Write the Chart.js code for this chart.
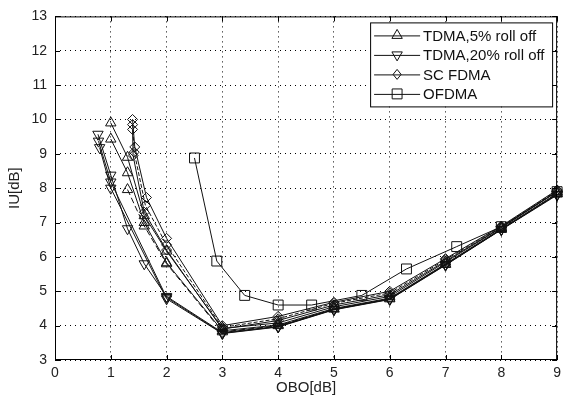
<!DOCTYPE html>
<html>
<head>
<meta charset="utf-8">
<script src="https://cdn.jsdelivr.net/npm/chart.js@4.4.1/dist/chart.umd.min.js"></script>
<style>
  html, body { margin: 0; padding: 0; background: #fff; }
</style>
</head>
<body>
<canvas id="myChart" width="566" height="398"></canvas>
<script>
const xTickLabels = ['0', '1', '2', '3', '4', '5', '6', '7', '8', '9'];
const yTickLabels = ['3', '4', '5', '6', '7', '8', '9', '10', '11', '12', '13'];
const seriesNames = ['TDMA,5% roll off', 'TDMA,20% roll off', 'SC FDMA', 'OFDMA'];

// TDMA 5% roll off (three curves)
const tdma5X1 = [1.0, 1.3, 1.6, 2.0, 3, 4, 5, 6, 7, 8, 9];
const tdma5Y1 = [9.9, 8.9, 7.2, 6.17, 3.92, 4.08, 4.55, 4.85, 5.85, 6.85, 7.9];
const tdma5X2 = [1.0, 1.3, 1.6, 2.0, 3, 4, 5, 6, 7, 8, 9];
const tdma5Y2 = [9.43, 8.45, 7.0, 5.83, 3.85, 4.02, 4.5, 4.8, 5.8, 6.82, 7.85];
const tdma5X3 = [1.3, 1.6, 2.0, 3, 4, 5, 6, 7, 8, 9];
const tdma5Y3 = [7.96, 6.9, 5.8, 3.82, 4.0, 4.48, 4.78, 5.78, 6.8, 7.83];

// TDMA 20% roll off (three curves)
const tdma20X1 = [0.77, 1.0, 1.3, 1.6, 2.0, 3, 4, 5, 6, 7, 8, 9];
const tdma20Y1 = [9.57, 8.38, 6.82, 5.8, 4.85, 3.8, 3.98, 4.48, 4.78, 5.78, 6.8, 7.82];
const tdma20X2 = [0.78, 1.0, 2.0, 3, 4, 5, 6, 7, 8, 9];
const tdma20Y2 = [9.37, 8.18, 4.82, 3.78, 3.97, 4.47, 4.77, 5.77, 6.8, 7.82];
const tdma20X3 = [0.8, 1.0, 2.0, 3, 4, 5, 6, 7, 8, 9];
const tdma20Y3 = [9.18, 8.0, 4.78, 3.77, 3.96, 4.46, 4.76, 5.76, 6.79, 7.8];

// SC FDMA (three curves)
const scX1 = [1.39, 1.43, 1.64, 2.0, 3, 4, 5, 6, 7, 8, 9];
const scY1 = [10.0, 9.2, 7.73, 6.54, 4.0, 4.27, 4.68, 5.0, 5.95, 6.9, 7.95];
const scX2 = [1.39, 1.42, 1.62, 2.0, 3, 4, 5, 6, 7, 8, 9];
const scY2 = [9.85, 9.05, 7.5, 6.35, 3.95, 4.2, 4.65, 4.95, 5.92, 6.88, 7.93];
const scX3 = [1.39, 1.4, 1.6, 2.0, 3, 4, 5, 6, 7, 8, 9];
const scY3 = [9.71, 8.95, 7.3, 6.2, 3.9, 4.15, 4.6, 4.9, 5.88, 6.86, 7.9];

// OFDMA
const ofdmaX = [2.5, 2.9, 3.4, 4.0, 4.6, 5.5, 6.3, 7.2, 8.0, 9];
const ofdmaY = [8.88, 5.88, 4.88, 4.6, 4.6, 4.88, 5.65, 6.3, 6.88, 7.9];

const markers = [
  { style: 'triangle', rotation: 0, radius: 6 },
  { style: 'triangle', rotation: 180, radius: 6 },
  { style: 'rectRot', rotation: 0, radius: 5 },
  { style: 'rect', rotation: 0, radius: 7 }
];

function curve(xs, ys, s, dash) {
  return {
    label: seriesNames[s],
    data: xs.map((x, i) => ({ x: x, y: ys[i] })),
    borderColor: '#111',
    borderWidth: 1,
    borderDash: dash || [],
    pointStyle: markers[s].style,
    pointRotation: markers[s].rotation,
    pointRadius: markers[s].radius,
    pointBorderColor: '#111',
    pointBackgroundColor: 'rgba(0,0,0,0)',
    pointBorderWidth: 1,
    tension: 0,
    clip: 10
  };
}

const font = "'Liberation Sans', Arial, sans-serif";

function drawMarker(ctx, s, x, y) {
  const r = markers[s].radius;
  ctx.beginPath();
  if (s === 0) {
    ctx.moveTo(x, y - r);
    ctx.lineTo(x + r * 0.866, y + r / 2);
    ctx.lineTo(x - r * 0.866, y + r / 2);
    ctx.closePath();
  } else if (s === 1) {
    ctx.moveTo(x, y + r);
    ctx.lineTo(x + r * 0.866, y - r / 2);
    ctx.lineTo(x - r * 0.866, y - r / 2);
    ctx.closePath();
  } else if (s === 2) {
    ctx.moveTo(x, y - r);
    ctx.lineTo(x + r * 0.8, y);
    ctx.lineTo(x, y + r);
    ctx.lineTo(x - r * 0.8, y);
    ctx.closePath();
  } else {
    const h = r * 0.707;
    ctx.rect(x - h, y - h, 2 * h, 2 * h);
  }
  ctx.stroke();
}

const boxPlugin = {
  id: 'boxPlugin',
  afterDraw(chart) {
    const ctx = chart.ctx;
    const a = chart.chartArea;
    const xs = chart.scales.x, ys = chart.scales.y;
    ctx.save();
    ctx.strokeStyle = '#000';
    ctx.lineWidth = 1;
    ctx.setLineDash([]);
    ctx.strokeRect(a.left + 0.5, a.top + 0.5, a.right - a.left - 1, a.bottom - a.top - 1);
    ctx.beginPath();
    xs.ticks.forEach(t => {
      const px = Math.round(xs.getPixelForValue(t.value)) + 0.5;
      ctx.moveTo(px, a.bottom); ctx.lineTo(px, a.bottom - 5);
      ctx.moveTo(px, a.top); ctx.lineTo(px, a.top + 5);
    });
    ys.ticks.forEach(t => {
      const py = Math.round(ys.getPixelForValue(t.value)) + 0.5;
      ctx.moveTo(a.left, py); ctx.lineTo(a.left + 5, py);
      ctx.moveTo(a.right, py); ctx.lineTo(a.right - 5, py);
    });
    ctx.stroke();

    // legend
    const bw = 182, bh = 84;
    const bx = a.right - 5 - bw, by = a.top + 6;
    ctx.fillStyle = '#fff';
    ctx.fillRect(bx, by, bw, bh);
    ctx.strokeRect(bx + 0.5, by + 0.5, bw, bh);
    ctx.font = '15px ' + font;
    ctx.textBaseline = 'middle';
    ctx.textAlign = 'left';
    seriesNames.forEach((name, s) => {
      const y = by + 13 + s * 19.5;
      ctx.strokeStyle = '#111';
      ctx.beginPath();
      ctx.moveTo(bx + 4, y + 0.5); ctx.lineTo(bx + 50, y + 0.5);
      ctx.stroke();
      drawMarker(ctx, s, bx + 27, y);
      ctx.fillStyle = '#111';
      ctx.fillText(name, bx + 53, y + 1);
    });
    ctx.restore();
  }
};

const ctx = document.getElementById('myChart');

const myChart = new Chart(ctx, {
  type: 'line',
  data: {
    datasets: [
      curve(tdma5X1, tdma5Y1, 0),
      curve(tdma5X2, tdma5Y2, 0),
      curve(tdma5X3, tdma5Y3, 0, [6, 3]),
      curve(tdma20X1, tdma20Y1, 1),
      curve(tdma20X2, tdma20Y2, 1),
      curve(tdma20X3, tdma20Y3, 1),
      curve(scX1, scY1, 2),
      curve(scX2, scY2, 2, [4, 2]),
      curve(scX3, scY3, 2),
      curve(ofdmaX, ofdmaY, 3)
    ]
  },
  options: {
    responsive: false,
    animation: false,
    layout: { padding: { left: 0, right: 6, top: 7, bottom: 0 } },
    plugins: {
      legend: { display: false },
      tooltip: { enabled: false }
    },
    scales: {
      x: {
        type: 'linear',
        min: 0,
        max: 9,
        afterFit: (s) => { s.height = 38; },
        ticks: {
          stepSize: 1,
          padding: 5,
          color: '#222',
          font: { family: font, size: 14 },
          callback: (v, i) => xTickLabels[i]
        },
        grid: { color: '#000', lineWidth: 1, drawTicks: false },
        border: { display: false, dash: [1, 4] },
        title: {
          display: true,
          text: 'OBO[dB]',
          color: '#222',
          font: { family: font, size: 15 },
          padding: { top: 0, bottom: 1 }
        }
      },
      y: {
        type: 'linear',
        min: 3,
        max: 13,
        afterFit: (s) => { s.width = 55; },
        ticks: {
          stepSize: 1,
          padding: 8,
          color: '#222',
          font: { family: font, size: 14 },
          callback: (v, i) => yTickLabels[i]
        },
        grid: { color: '#000', lineWidth: 1, drawTicks: false },
        border: { display: false, dash: [1, 4] },
        title: {
          display: true,
          text: 'IU[dB]',
          color: '#222',
          font: { family: font, size: 15 },
          padding: { top: 6, bottom: 0 }
        }
      }
    }
  },
  plugins: [boxPlugin]
});
</script>
</body>
</html>
